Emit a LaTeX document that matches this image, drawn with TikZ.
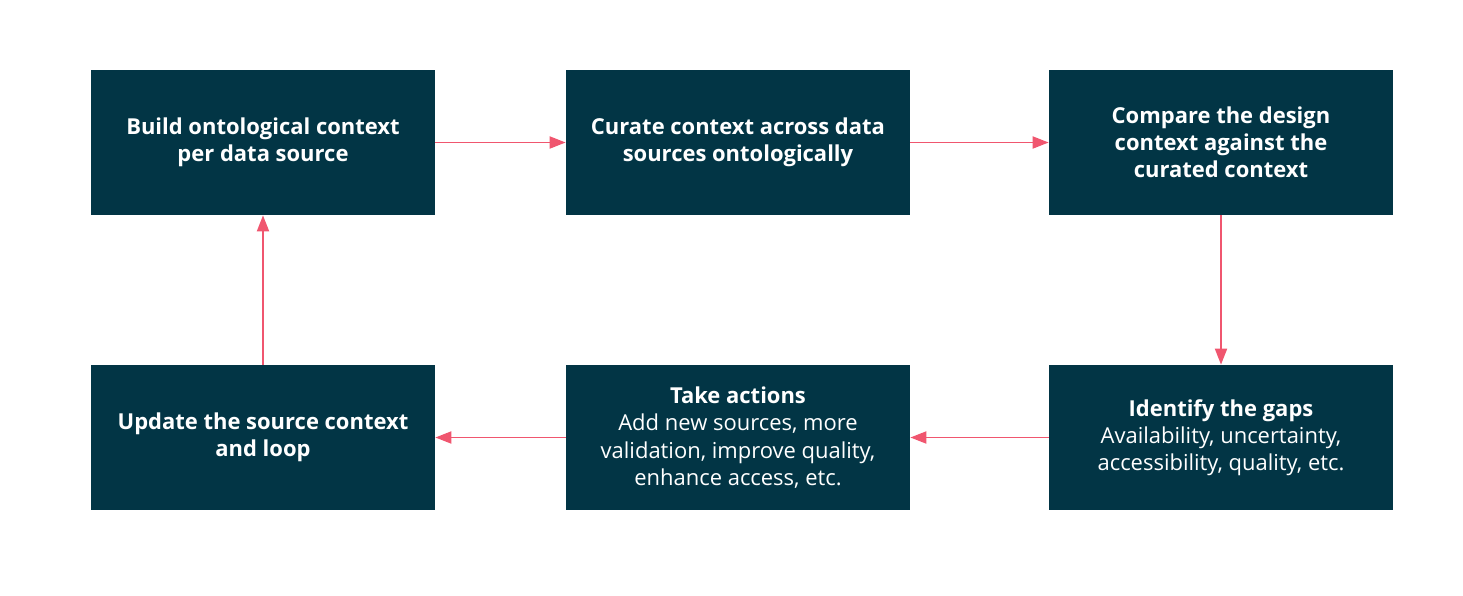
\documentclass[tikz,border=0pt]{standalone}
\usepackage{fontspec}
\setmainfont{Open Sans}
\usepackage{xcolor}
\usepackage{tikz}
\usetikzlibrary{arrows.meta}

\definecolor{boxteal}{HTML}{023545}
\definecolor{arrowpink}{HTML}{F0566F}

\tikzset{
    stepbox/.style={draw=none, fill=boxteal, text=white, rectangle,
        minimum width=6.88cm, minimum height=2.9cm,
        align=center, font=\fontsize{12.5}{15.5}\selectfont},
    flow/.style={-{Triangle[length=0.32cm, width=0.24cm]}, draw=arrowpink, line width=1.1pt}
}

\begin{document}
\begin{tikzpicture}
    \useasboundingbox (0, 0) rectangle (29.26, -11.92);
    % Nodes
    \node[stepbox] (B) at (5.26, -2.85) {\textbf{Build ontological context}\\\textbf{per data source}};
    \node[stepbox] (C) at (14.76, -2.85) {\textbf{Curate context across data}\\\textbf{sources ontologically}};
    \node[stepbox] (D) at (24.42, -2.85) {\textbf{Compare the design}\\\textbf{context against the}\\\textbf{curated context}};
    \node[stepbox] (G) at (24.42, -8.75) {\textbf{Identify the gaps}\\Availability, uncertainty,\\accessibility, quality, etc.};
    \node[stepbox] (A) at (14.76, -8.75) {\textbf{Take actions}\\Add new sources, more\\validation, improve quality,\\enhance access, etc.};
    \node[stepbox] (U) at (5.26, -8.75) {\textbf{Update the source context}\\\textbf{and loop}};

    % Edges
    \draw[flow] (B) -- (C);
    \draw[flow] (C) -- (D);
    \draw[flow] (D) -- (G);
    \draw[flow] (G) -- (A);
    \draw[flow] (A) -- (U);
    \draw[flow] (U) -- (B);
\end{tikzpicture}
\end{document}
